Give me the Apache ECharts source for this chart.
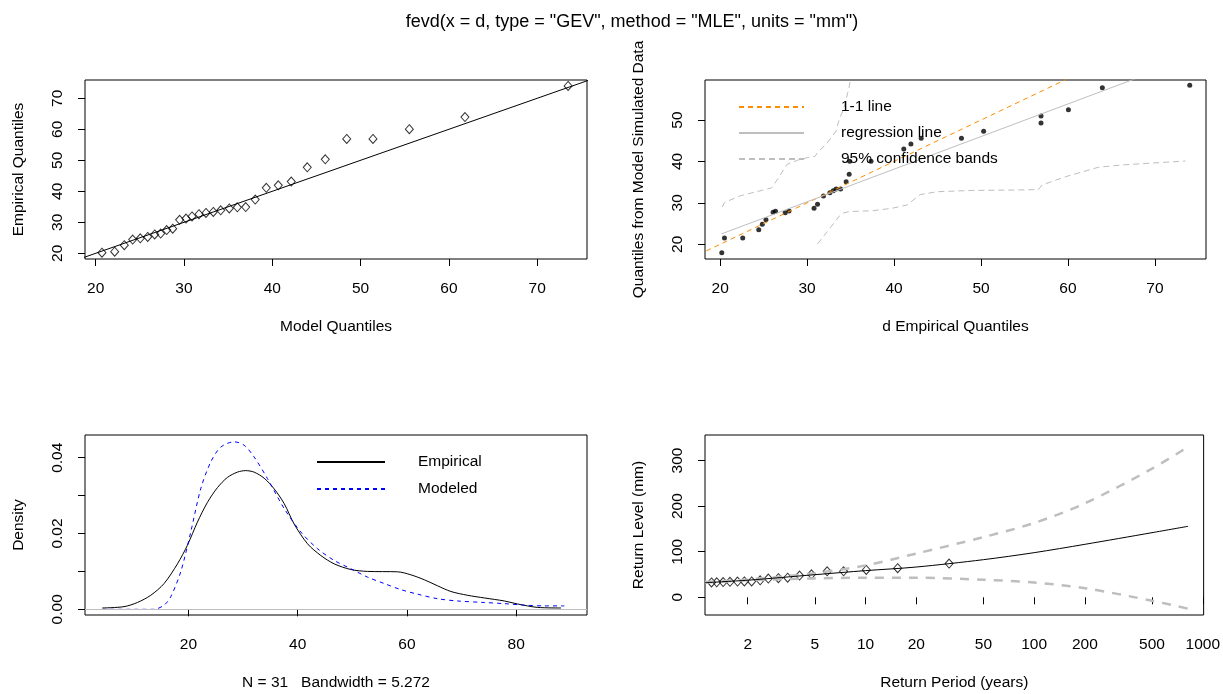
<!DOCTYPE html>
<html>
<head>
<meta charset="UTF-8">
<title>fevd GEV diagnostics</title>
<script src="https://cdn.jsdelivr.net/npm/echarts@6/dist/echarts.min.js"></script>
<style>
  body { margin: 0; background: #fff; }
  #main { width: 1223px; height: 694px; }
</style>
</head>
<body>
<div id="main"></div>
<script>
// ---- data ----
// sorted observations (empirical quantiles), shared by the qq plots and the return level plot
var empQ = [20.19, 20.5, 22.6, 24.44, 24.85, 25.27, 26.09, 26.37, 27.48, 27.92, 30.8, 31.2, 31.88, 32.62,
            33.0, 33.34, 33.85, 34.49, 34.84, 34.9, 37.35, 41.12, 41.94, 43.12, 47.75, 50.3, 56.9, 56.9,
            60.05, 63.95, 74.0];
// model quantiles (upper left x)
var modelQ = [20.71, 22.15, 23.24, 24.19, 25.05, 25.89, 26.68, 27.36, 28.04, 28.72, 29.51, 30.23, 30.91,
              31.7, 32.49, 33.32, 34.16, 35.13, 36.04, 36.99, 38.07, 39.32, 40.68, 42.15, 43.96, 46.0,
              48.43, 51.4, 55.52, 61.82, 73.5];
// quantiles from model simulated data (upper right y)
var simQ = [17.97, 21.52, 21.52, 23.52, 24.83, 25.94, 27.72, 27.97, 27.63, 28.04, 28.69, 29.65, 31.66,
            32.45, 32.94, 33.35, 33.35, 35.11, 36.9, 40.03, 40.03, 43.0, 44.21, 45.59, 45.59, 47.27,
            49.28, 50.97, 52.49, 57.8, 58.38];
var oneOne = [10, 90];
var regX = [20.19, 74.0];
var regY = [22.54, 64.9];
var ciUpX = [20.25, 20.5, 22.3, 25.9, 26.2, 27.7, 28.9, 30.0, 30.9, 31.3, 32.2, 33.3, 33.7, 34.2, 34.8, 35.1];
var ciUpY = [29.0, 30.1, 31.7, 33.6, 34.4, 39.3, 40.3, 40.9, 41.2, 42.4, 44.2, 47.2, 50.2, 52.6, 57.6, 61.0];
var ciLoX = [31.2, 32.3, 33.7, 34.1, 34.8, 37.5, 39.8, 41.5, 43.0, 45.0, 48.9, 53.9, 56.6, 57.0, 59.7, 63.5, 66.5, 73.5];
var ciLoY = [20.1, 23.0, 26.8, 27.5, 27.9, 28.1, 28.7, 29.5, 32.0, 32.7, 33.0, 33.1, 33.2, 34.3, 36.3, 38.6, 39.2, 40.1];

// density curves (lower left)
var densEmpX = [4.25, 8.22, 10.67, 13.11, 15.55, 18.0, 19.82, 21.65, 23.48, 25.31, 27.14, 28.97, 30.5, 32.03,
                33.86, 35.69, 37.53, 39.36, 41.8, 44.24, 46.68, 49.74, 52.79, 58.28, 60.72, 63.17, 65.61,
                68.05, 71.1, 74.16, 77.82, 80.26, 83.93, 88.2];
var densEmpY = [0.00035, 0.0007, 0.0018, 0.0037, 0.0068, 0.012, 0.0169, 0.023, 0.0282, 0.0321, 0.0348, 0.0362,
                0.0366, 0.0362, 0.0346, 0.0318, 0.0279, 0.0225, 0.0173, 0.0142, 0.012, 0.0105, 0.01, 0.0099,
                0.0091, 0.0078, 0.0062, 0.0047, 0.0037, 0.003, 0.0022, 0.0014, 0.0005, 0.00035];
var densModX = [4.25, 13.7, 15.55, 16.77, 18.6, 20.43, 22.26, 24.1, 25.93, 28.37, 30.2, 32.03, 34.47, 37.53,
                40.58, 43.63, 46.68, 49.74, 52.79, 55.84, 58.89, 61.94, 65.61, 69.27, 74.16, 77.82, 81.48,
                85.15, 88.8];
var densModY = [0, 0, 0.0011, 0.0033, 0.0099, 0.0204, 0.0318, 0.0389, 0.0428, 0.0442, 0.0433, 0.0402, 0.0345,
                0.0266, 0.0204, 0.016, 0.0129, 0.0107, 0.0085, 0.0068, 0.0052, 0.004, 0.0028, 0.0022, 0.0018,
                0.0015, 0.0011, 0.0009, 0.0009];

// return level plot (lower right)
var obsPeriod = [1.22, 1.31, 1.43, 1.57, 1.74, 1.91, 2.11, 2.37, 2.65, 3.04, 3.45, 4.06, 4.78, 5.92, 7.41,
                 10.1, 15.5, 31.3];
var rlT = [1.116, 2, 5, 10, 20, 50, 100, 200, 500, 818];
var rlLevel = [32.1, 37.5, 49.6, 58.5, 66.4, 82.5, 97.9, 116.2, 141.7, 155.7];
var rlUpper = [33.6, 39.0, 53.0, 70.0, 96.0, 132.0, 163.0, 206.0, 282.0, 330.0];
var rlLower = [32.1, 37.3, 41.5, 43.1, 43.0, 38.5, 32.5, 20.0, -7.5, -25.0];

var tickQ = [20, 30, 40, 50, 60, 70];
var tickSim = [20, 30, 40, 50];
var tickDensX = [20, 40, 60, 80];
var tickDensY = [0, 0.01, 0.02, 0.03, 0.04];
var labelDensY = [0, 0.02, 0.04];
var tickPeriod = [2, 5, 10, 20, 50, 100, 200, 500, 1000];
var tickLevel = [0, 100, 200, 300];

// ---- chart ----
var FONT = "'Liberation Sans', Arial, sans-serif";
var FS = 15.5;

function zip(a, b) {
  return a.map(function (v, i) { return [v, b[i]]; });
}

function plain(v) { return String(v); }

function xAx(grid, type, min, max, ticks, name) {
  return {
    type: type, gridIndex: grid, min: min, max: max, name: name,
    nameLocation: 'middle', nameGap: 60,
    nameTextStyle: { fontSize: FS, color: '#000', fontFamily: FONT },
    axisLine: { show: false },
    axisTick: { show: true, length: 7, customValues: ticks, lineStyle: { color: '#000' } },
    axisLabel: { customValues: ticks, margin: 22, fontSize: FS, color: '#000', fontFamily: FONT, formatter: plain },
    splitLine: { show: false }
  };
}

function yAx(grid, min, max, ticks, labels, name, fmt) {
  return {
    type: 'value', gridIndex: grid, min: min, max: max, name: name,
    nameLocation: 'middle', nameGap: 58,
    nameTextStyle: { fontSize: FS, color: '#000', fontFamily: FONT },
    axisLine: { show: false },
    axisTick: { show: true, length: 7, customValues: ticks, lineStyle: { color: '#000' } },
    axisLabel: { customValues: labels, rotate: 90, margin: 19, fontSize: FS, color: '#000',
                 fontFamily: FONT, formatter: fmt || plain },
    splitLine: { show: false }
  };
}

function gridBox(left, top, width, height) {
  return { left: left, top: top, width: width, height: height, show: true,
           borderColor: '#000', borderWidth: 1, backgroundColor: 'transparent' };
}

function lineS(name, grid, data, color, width, dash, smooth) {
  return {
    name: name, type: 'line', xAxisIndex: grid, yAxisIndex: grid, data: data,
    symbol: 'none', showSymbol: false, smooth: smooth || false, clip: true,
    lineStyle: { color: color, width: width, type: dash || 'solid' },
    itemStyle: { color: color },
    silent: true
  };
}

var hollow = { color: 'rgba(0,0,0,0)', borderColor: '#000', borderWidth: 1 };

var chart = echarts.init(document.getElementById('main'));

var option = {
  animation: false,
  backgroundColor: '#fff',
  graphic: [{
    type: 'text', x: 632, y: 22,
    style: { text: 'fevd(x = d, type = "GEV", method = "MLE", units = "mm")',
             align: 'center', verticalAlign: 'middle',
             font: '18px ' + FONT, fill: '#000' }
  }],
  grid: [
    gridBox(85, 80, 502, 179),
    gridBox(705, 80, 501, 179),
    gridBox(85, 435, 502, 180),
    gridBox(705, 435, 501, 180)
  ],
  xAxis: [
    xAx(0, 'value', 18.79, 75.64, tickQ, 'Model Quantiles'),
    xAx(1, 'value', 18.26, 75.87, tickQ, 'd Empirical Quantiles'),
    xAx(2, 'value', 1.08, 92.95, tickDensX, 'N = 31   Bandwidth = 5.272'),
    xAx(3, 'log', 1.116, 1012, tickPeriod, 'Return Period (years)')
  ],
  yAxis: [
    yAx(0, 18.16, 75.9, tickQ, tickQ, 'Empirical Quantiles'),
    yAx(1, 16.45, 59.66, tickSim, tickSim, 'Quantiles from Model Simulated Data'),
    yAx(2, -0.0015, 0.046, tickDensY, labelDensY, 'Density', function (v) { return v.toFixed(2); }),
    yAx(3, -38.8, 355.9, tickLevel, tickLevel, 'Return Level (mm)')
  ],
  legend: [{
    data: ['1-1 line', 'regression line', '95% confidence bands'],
    orient: 'vertical', left: 733, top: 94, itemWidth: 65, itemHeight: 14, itemGap: 10,
    selectedMode: false, itemStyle: { opacity: 0 },
    textStyle: { fontSize: FS, color: '#000', fontFamily: FONT, padding: [0, 0, 0, 32] }
  }, {
    data: ['Empirical', 'Modeled'],
    orient: 'vertical', left: 311, top: 449, itemWidth: 68, itemHeight: 14, itemGap: 11,
    selectedMode: false, itemStyle: { opacity: 0 },
    textStyle: { fontSize: FS, color: '#000', fontFamily: FONT, padding: [0, 0, 0, 28] }
  }],
  series: [
    // upper left: qq plot against the model
    lineS('y=x', 0, zip(oneOne, oneOne), '#000', 1),
    {
      name: 'qq', type: 'scatter', xAxisIndex: 0, yAxisIndex: 0, data: zip(modelQ, empQ),
      symbol: 'diamond', symbolSize: [8, 9], itemStyle: hollow, silent: true
    },
    // upper right: qq plot against simulated data
    {
      name: 'sim', type: 'scatter', xAxisIndex: 1, yAxisIndex: 1, data: zip(empQ, simQ),
      symbol: 'circle', symbolSize: 5, itemStyle: { color: '#000' }, silent: true
    },
    lineS('1-1 line', 1, zip(oneOne, oneOne), '#FF8C00', 1, [5, 4]),
    lineS('regression line', 1, zip(regX, regY), '#BEBEBE', 1),
    lineS('95% confidence bands', 1, zip(ciUpX, ciUpY), '#BEBEBE', 1, [6, 4]),
    lineS('95% confidence bands', 1, zip(ciLoX, ciLoY), '#BEBEBE', 1, [6, 4]),
    // lower left: densities
    Object.assign(lineS('Empirical', 2, zip(densEmpX, densEmpY), '#000', 1, 'solid', 0.3), {
      markLine: {
        silent: true, symbol: 'none', label: { show: false },
        lineStyle: { color: '#BEBEBE', type: 'solid', width: 1 },
        data: [{ yAxis: 0 }]
      }
    }),
    lineS('Modeled', 2, zip(densModX, densModY), '#0000FF', 1, [4, 4], 0.3),
    // lower right: return levels
    lineS('upper', 3, zip(rlT, rlUpper), '#BEBEBE', 2.5, [9, 8], 0.3),
    lineS('lower', 3, zip(rlT, rlLower), '#BEBEBE', 2.5, [9, 8], 0.3),
    lineS('level', 3, zip(rlT, rlLevel), '#000', 1, 'solid', 0.3),
    {
      name: 'obs', type: 'scatter', xAxisIndex: 3, yAxisIndex: 3,
      data: zip(obsPeriod, empQ.slice(empQ.length - obsPeriod.length)),
      symbol: 'diamond', symbolSize: [8, 9], itemStyle: hollow, silent: true
    }
  ]
};

chart.setOption(option);
</script>
</body>
</html>
